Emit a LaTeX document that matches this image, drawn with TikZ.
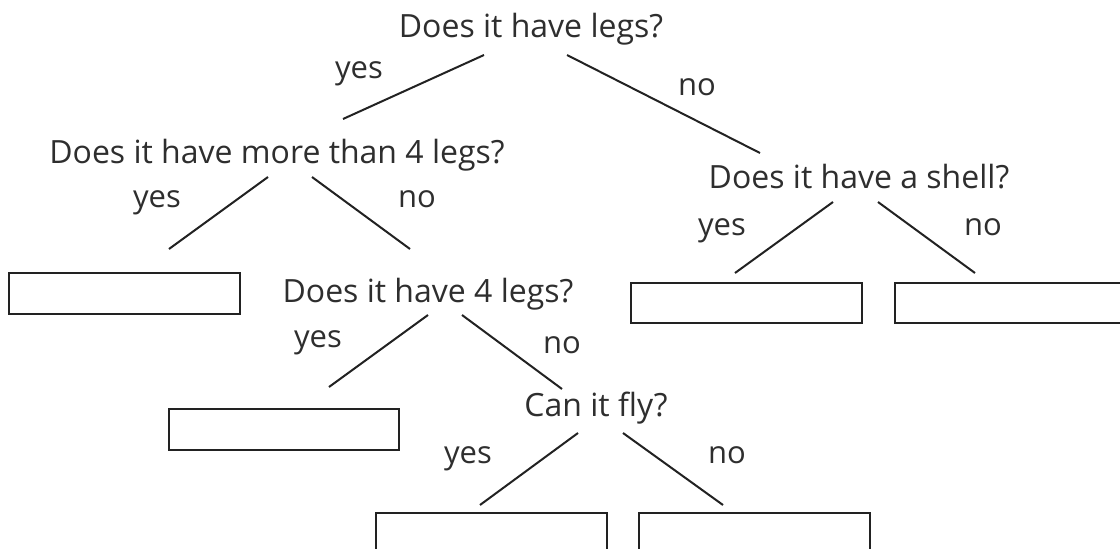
\documentclass[tikz,border=0pt]{standalone}
\usepackage{fontspec}
\setmainfont{Open Sans}
\definecolor{ink}{HTML}{2E2E2E}
\definecolor{lineink}{HTML}{222222}
\begin{document}
\begin{tikzpicture}[x=1pt,y=-1pt,
  q/.style={font=\fontsize{32}{36}\selectfont, text=ink, inner sep=0pt, anchor=base},
  lab/.style={font=\fontsize{31}{36}\selectfont, text=ink, inner sep=0pt, anchor=base},
  br/.style={draw=lineink, line width=2pt},
  ans/.style={draw=lineink, line width=2.4pt}]
\useasboundingbox (0,0) rectangle (1120,549);
% questions
\node[q] (q1) at (531,37) {Does it have legs?};
\node[q] (q2) at (277,163) {Does it have more than 4 legs?};
\node[q] (q3) at (859,188) {Does it have a shell?};
\node[q] (q4) at (428,302) {Does it have 4 legs?};
\node[q] (q5) at (596,416) {Can it fly?};
% labels
\node[lab] (y1) at (359,78) {yes};
\node[lab] (n1) at (697,95) {no};
\node[lab] (y2) at (157,207) {yes};
\node[lab] (n2) at (417,207) {no};
\node[lab] (y3) at (722,235) {yes};
\node[lab] (n3) at (983,235) {no};
\node[lab] (y4) at (318,347) {yes};
\node[lab] (n4) at (562,353) {no};
\node[lab] (y5) at (468,463) {yes};
\node[lab] (n5) at (727,463) {no};
% branch end points
\coordinate (a1) at (484,55);  \coordinate (b1) at (343,119);
\coordinate (a2) at (567,55);  \coordinate (b2) at (760,153);
\coordinate (a3) at (268,177); \coordinate (b3) at (169,249);
\coordinate (a4) at (312,177); \coordinate (b4) at (410,249);
\coordinate (a5) at (833,202); \coordinate (b5) at (735,273);
\coordinate (a6) at (878,202); \coordinate (b6) at (975,273);
\coordinate (a7) at (428,315); \coordinate (b7) at (329,387);
\coordinate (a8) at (462,315); \coordinate (b8) at (562,389);
\coordinate (a9) at (578,433); \coordinate (b9) at (480,505);
\coordinate (a10) at (623,433); \coordinate (b10) at (723,505);
\foreach \i in {1,...,10} \draw[br] (a\i) -- (b\i);
% answer boxes
\draw[ans] (9,273) rectangle (240,314);
\draw[ans] (631,283) rectangle (862,323);
\draw[ans] (1122,283) -- (895,283) -- (895,323) -- (1122,323);
\draw[ans] (169,409) rectangle (399,450);
\draw[ans] (376,552) -- (376,513) -- (607,513) -- (607,552);
\draw[ans] (639,552) -- (639,513) -- (870,513) -- (870,552);
\end{tikzpicture}
\end{document}
